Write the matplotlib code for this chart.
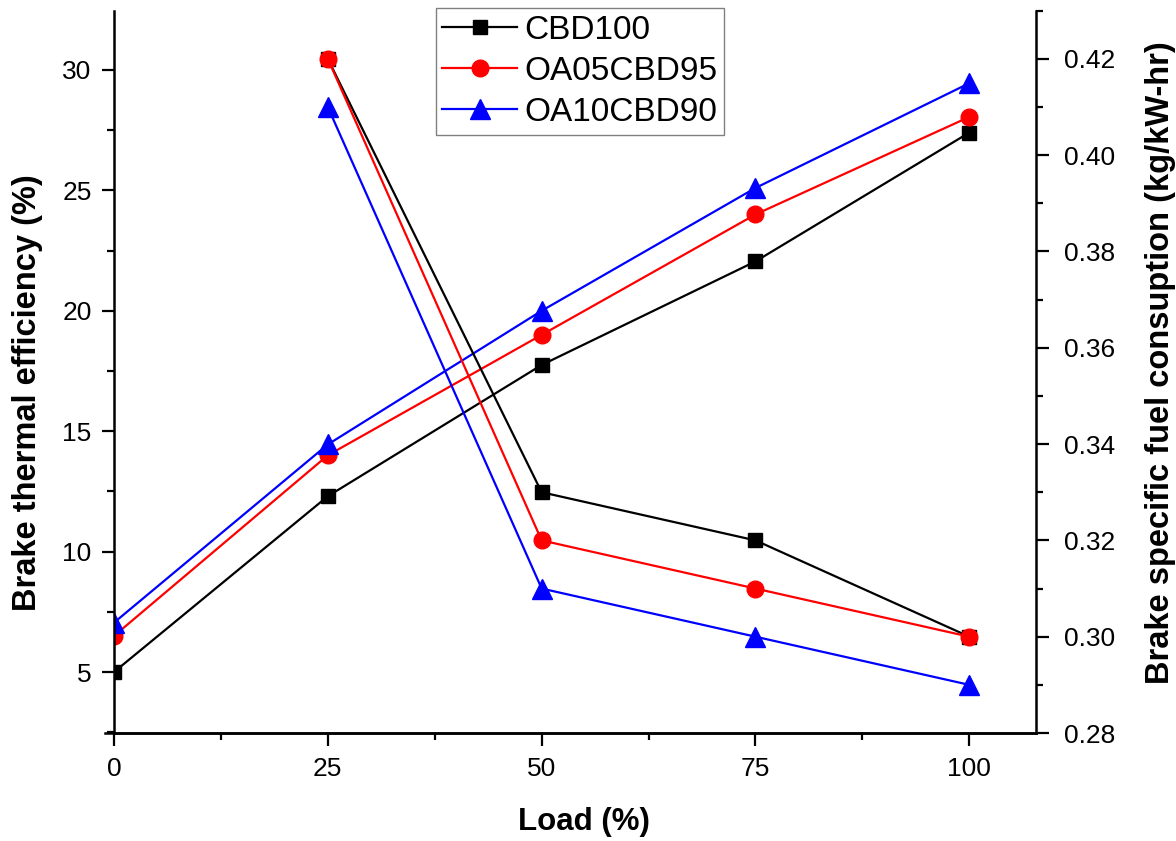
import numpy as np #módulo numpy;
import matplotlib
matplotlib.use("Agg")
import matplotlib.pyplot as plt #módulo matplotlib;
from matplotlib.ticker import MultipleLocator

plt.rcParams['font.family']=['Liberation Sans','DejaVu Sans'] #fuente parecida a Arial;

#datos;
carga=[0,25,50,75,100] #carga (%);
carga_bsfc=[25,50,75,100] #la bsfc no tiene punto en 0;
series=["CBD100","OA05CBD95","OA10CBD90"] #nombres de las mezclas;
bte_cbd100=[5.0,12.3,17.75,22.05,27.4] #eficiencia térmica (%);
bte_oa05=[6.5,14.0,19.0,24.0,28.05]
bte_oa10=[7.05,14.45,20.0,25.1,29.45]
bsfc_cbd100=[0.42,0.33,0.32,0.30] #consumo específico (kg/kW-hr);
bsfc_oa05=[0.42,0.32,0.31,0.30]
bsfc_oa10=[0.41,0.31,0.30,0.29]

colores=["black","red","blue"]
marcas=["s","o","^"]
tam=[10.5,12,14]

fig=plt.figure(figsize=(11.76,8.41),dpi=100)
ax=fig.add_axes([0.0969,0.1284,0.881-0.0969,0.9873-0.1284])
ax2=ax.twinx()

bte=[bte_cbd100,bte_oa05,bte_oa10]
bsfc=[bsfc_cbd100,bsfc_oa05,bsfc_oa10]
lineas=[]
for i in range(len(series)):
    l,=ax.plot(carga,bte[i],color=colores[i],marker=marcas[i],ms=tam[i],lw=1.6,label=series[i])
    ax2.plot(carga_bsfc,bsfc[i],color=colores[i],marker=marcas[i],ms=tam[i],lw=1.6)
    lineas.append(l)

#límites y ticks;
ax.set_xlim(0,107.8)
ax.set_ylim(2.47,32.46)
ax2.set_ylim(0.28,0.43)
ax.xaxis.set_major_locator(MultipleLocator(25))
ax.xaxis.set_minor_locator(MultipleLocator(12.5))
ax.yaxis.set_major_locator(MultipleLocator(5))
ax.yaxis.set_minor_locator(MultipleLocator(2.5))
ax2.yaxis.set_major_locator(MultipleLocator(0.02))
ax2.yaxis.set_minor_locator(MultipleLocator(0.01))
ax2.yaxis.set_major_formatter(plt.FormatStrFormatter('%.2f'))

for a in (ax,ax2):
    a.spines['top'].set_visible(False) #sin borde superior;
    for s in a.spines.values():
        s.set_linewidth(1.8)
    a.tick_params(which='major',direction='out',length=9,width=1.6,labelsize=19)
    a.tick_params(which='minor',direction='out',length=5,width=1.6)
ax.spines['right'].set_visible(False)
ax2.spines['left'].set_visible(False)
ax.spines['bottom'].set_bounds(-1.0,107.8) #el eje x sobresale un poco;
ax.tick_params(axis='x',pad=8)
ax.tick_params(axis='y',pad=7)
ax2.tick_params(axis='y',pad=11)

#etiquetas de los ejes;
ax.set_xlabel("Load (%)",fontsize=22.5,fontweight='bold')
ax.set_ylabel("Brake thermal efficiency (%)",fontsize=23.5,fontweight='bold')
ax2.set_ylabel("Brake specific fuel consuption (kg/kW-hr)",fontsize=23.5,fontweight='bold')
ax.xaxis.set_label_coords(0.51,-0.103)
ax.yaxis.set_label_coords(-0.077,0.471)
ax2.yaxis.set_label_coords(1.118,0.513)

leg=ax2.legend(lineas,series,loc='upper left',bbox_to_anchor=(435.7/1176,1-8.3/841),
               bbox_transform=fig.transFigure,fontsize=24,frameon=True,fancybox=False,
               edgecolor='gray',framealpha=1,borderpad=0.2,labelspacing=0.3,
               handlelength=2.25,handletextpad=0.2,borderaxespad=0)
leg.get_frame().set_linewidth(1.0)

plt.savefig("out.png",dpi=100) #guardar resultado;
